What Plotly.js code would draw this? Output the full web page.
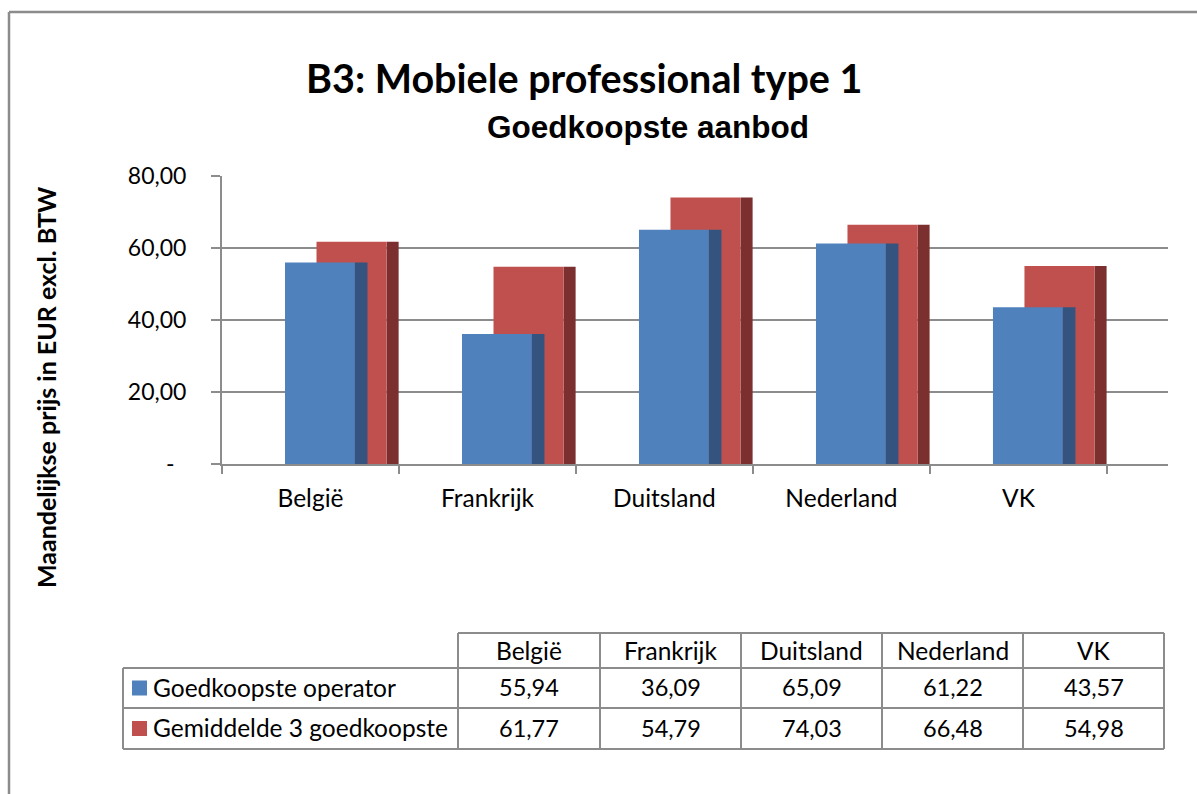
<!DOCTYPE html>
<html>
<head>
<meta charset="utf-8">
<script src="https://cdn.plot.ly/plotly-3.0.1.min.js"></script>
<style>html,body{margin:0;padding:0;background:#fff;}</style>
</head>
<body>
<div id="chart" style="width:1197px;height:794px;"></div>
<script>
const categories = ["België", "Frankrijk", "Duitsland", "Nederland", "VK"];
const seriesNames = ["Goedkoopste operator", "Gemiddelde 3 goedkoopste"];
const cheapest = [55.94, 36.09, 65.09, 61.22, 43.57];
const average3 = [61.77, 54.79, 74.03, 66.48, 54.98];
const yTickVals = [0, 20, 40, 60, 80];
const yTickText = ["-\u00a0\u00a0", "20,00", "40,00", "60,00", "80,00"];

const W = 1197, H = 794;
const px = x => x / W;
const py = y => 1 - y / H;

const blue = "#4F81BD", blueSide = "#34547F";
const red = "#C0504D", redSide = "#7B2F2E";
const grey = "#8C8C8C";
const calibri = "Lato, 'Open Sans', sans-serif";

function fmt(v) { return v.toFixed(2).replace(".", ","); }

const traces = [
  {type: "bar", x: categories, y: average3, offset: 0.43, width: 0.068,
   marker: {color: redSide, line: {width: 0}}, hoverinfo: "skip", showlegend: false},
  {type: "bar", x: categories, y: average3, offset: 0.034, width: 0.396,
   marker: {color: red, line: {width: 0}}, name: seriesNames[1], showlegend: false},
  {type: "bar", x: categories, y: cheapest, offset: -0.144, width: 0.395,
   marker: {color: blue, line: {width: 0}}, name: seriesNames[0], showlegend: false},
  {type: "bar", x: categories, y: cheapest, offset: 0.251, width: 0.071,
   marker: {color: blueSide, line: {width: 0}}, hoverinfo: "skip", showlegend: false}
];

const shapes = [];
const annotations = [];
function line(x0, y0, x1, y1, w) {
  shapes.push({type: "line", xref: "paper", yref: "paper",
    x0: px(x0), y0: py(y0), x1: px(x1), y1: py(y1),
    line: {color: grey, width: w || 2}});
}
// outer frame (top and left visible)
line(9, 12, 1197, 12, 2.5);
line(9, 12, 9, 794, 2.5);

// data table
const colX = [458, 600, 741, 882, 1023, 1164];
const rowY = [633, 668, 708, 749];
const tableLeft = 123;
line(colX[0], rowY[0], colX[5], rowY[0]);
for (let r = 1; r < rowY.length; r++) line(tableLeft, rowY[r], colX[5], rowY[r]);
colX.forEach(x => line(x, rowY[0], x, rowY[3]));
line(tableLeft, rowY[1], tableLeft, rowY[3]);

const wordFont = {family: calibri, size: 24.5, color: "#000"};
const numFont = {family: calibri, size: 23.5, color: "#000"};
categories.forEach((c, i) => {
  const cx = (colX[i] + colX[i + 1]) / 2;
  annotations.push({xref: "paper", yref: "paper", x: px(cx), y: py((rowY[0] + rowY[1]) / 2),
    text: c, showarrow: false, xanchor: "center", yanchor: "middle", font: wordFont});
  annotations.push({xref: "paper", yref: "paper", x: px(cx), y: py((rowY[1] + rowY[2]) / 2 - 1),
    text: fmt(cheapest[i]), showarrow: false, xanchor: "center", yanchor: "middle", font: numFont});
  annotations.push({xref: "paper", yref: "paper", x: px(cx), y: py((rowY[2] + rowY[3]) / 2 - 1),
    text: fmt(average3[i]), showarrow: false, xanchor: "center", yanchor: "middle", font: numFont});
});
const keyColors = [blue, red];
seriesNames.forEach((s, r) => {
  const cy = (rowY[r + 1] + rowY[r + 2]) / 2;
  shapes.push({type: "rect", xref: "paper", yref: "paper",
    x0: px(132), x1: px(147), y0: py(cy - 7.5), y1: py(cy + 7.5),
    fillcolor: keyColors[r], line: {width: 0}});
  annotations.push({xref: "paper", yref: "paper", x: px(151), y: py(cy - 1),
    text: s, showarrow: false, xanchor: "left", yanchor: "middle", font: wordFont});
});

// titles
annotations.push({xref: "paper", yref: "paper", x: px(584), y: py(78),
  text: "<b>B3: Mobiele professional type 1</b>", showarrow: false,
  xanchor: "center", yanchor: "middle", font: {family: calibri, size: 39.5, color: "#000"}});
annotations.push({xref: "paper", yref: "paper", x: px(648), y: py(127),
  text: "<b>Goedkoopste aanbod</b>", showarrow: false,
  xanchor: "center", yanchor: "middle", font: {family: "'Liberation Sans', Arial, sans-serif", size: 31.5, color: "#000"}});
annotations.push({xref: "paper", yref: "paper", x: px(46), y: py(387),
  text: "<b>Maandelijkse prijs in EUR excl. BTW</b>", showarrow: false, textangle: -90,
  xanchor: "center", yanchor: "middle", font: {family: calibri, size: 25, color: "#000"}});

const layout = {
  width: W, height: H,
  margin: {l: 0, r: 0, t: 0, b: 0},
  paper_bgcolor: "#fff", plot_bgcolor: "rgba(0,0,0,0)",
  barmode: "overlay",
  showlegend: false,
  xaxis: {
    domain: [px(222), px(1168)],
    type: "category", categoryorder: "array", categoryarray: categories,
    range: [-0.5, 4.845],
    showgrid: false, zeroline: false,
    showline: true, linecolor: grey, linewidth: 2,
    ticks: "outside", tickson: "boundaries", ticklen: 8, tickwidth: 2, tickcolor: grey,
    ticklabelstandoff: 12,
    tickfont: {family: calibri, size: 24.5, color: "#000"},
    fixedrange: true
  },
  yaxis: {
    domain: [py(464), py(176)],
    range: [0, 80],
    tickvals: yTickVals, ticktext: yTickText,
    showgrid: true, gridcolor: grey, gridwidth: 2,
    zeroline: false,
    showline: true, linecolor: grey, linewidth: 2,
    ticks: "outside", ticklen: 9, tickwidth: 2, tickcolor: grey,
    ticklabelstandoff: 20,
    tickfont: {family: calibri, size: 23, color: "#000"},
    fixedrange: true
  },
  shapes: shapes,
  annotations: annotations
};

Plotly.newPlot("chart", traces, layout, {displayModeBar: false, staticPlot: true});
</script>
</body>
</html>
